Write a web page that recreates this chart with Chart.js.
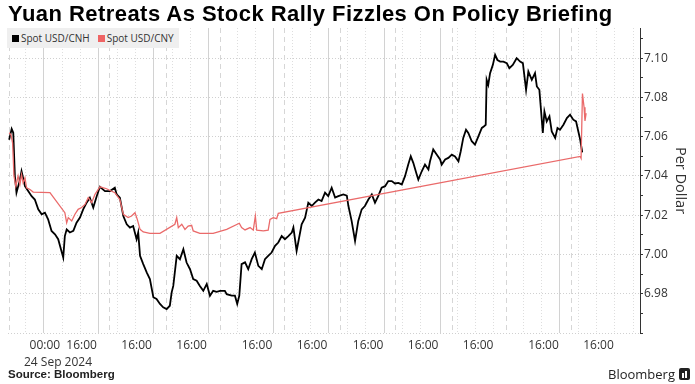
<!DOCTYPE html>
<html><head><meta charset="utf-8">
<script src="https://cdn.jsdelivr.net/npm/chart.js@4.4.1/dist/chart.umd.min.js"></script>
<style>
html,body{margin:0;padding:0;background:#fff;}
#wrap{position:relative;width:695px;height:384px;overflow:hidden;font-family:"Open Sans",sans-serif;}
#c{position:absolute;left:0;top:0;}
#title{position:absolute;left:8px;top:1px;font:bold 22px "Liberation Sans",Arial,sans-serif;letter-spacing:0.45px;color:#000;white-space:nowrap;}
#legend{position:absolute;left:7px;top:28px;width:172px;height:20px;background:#efefef;font-size:10px;color:#333;display:flex;align-items:center;white-space:nowrap;}
#legend .sw{display:inline-block;width:7px;height:7px;margin:0 2px 0 5px;}
#date{position:absolute;left:24px;top:353px;font:12px "Open Sans",sans-serif;color:#333;white-space:nowrap;}
#source{position:absolute;left:8px;top:368px;font:bold 11.5px "Liberation Sans",Arial,sans-serif;color:#222;white-space:nowrap;}
#brand{position:absolute;right:5px;top:365px;font:13px "Open Sans",sans-serif;color:#222;white-space:nowrap;display:flex;align-items:center;}
#brand .ic{display:inline-block;width:11px;height:12px;background:#222;border-radius:2px;margin-left:4px;position:relative;}
#brand .ic i{position:absolute;bottom:2px;width:2px;background:#fff;}
</style></head>
<body><div id="wrap">
<canvas id="c" width="695" height="384"></canvas>
<div id="title">Yuan Retreats As Stock Rally Fizzles On Policy Briefing</div>
<div id="legend"><span class="sw" style="background:#000"></span>Spot USD/CNH<span class="sw" style="background:#ef6464;margin-left:8px"></span>Spot USD/CNY</div>
<div id="date">24 Sep 2024</div>
<div id="source">Source: Bloomberg</div>
<div id="brand">Bloomberg<span class="ic"><i style="left:3px;height:5px"></i><i style="left:6px;height:7px"></i></span></div>
</div>
<script>
// x values are hours of the (compressed) trading-time axis, 0 = 00:00 24 Sep 2024
const cnhHours = [-15.6,-14.5,-13.8,-13.1,-12.4,-10.9,-10.2,-8.7,-7.3,-5.8,-4.4,-2.9,-1.4,0.0,1.4,2.9,4.4,5.8,7.0,8.0,8.7,9.5,10.9,12.4,13.8,15.3,16.7,18.2,19.6,21.1,22.6,24.0,26.2,28.4,30.5,31.3,32.7,34.2,35.7,37.1,38.5,40.0,40.7,41.5,42.9,44.4,45.8,47.3,48.7,50.2,51.6,53.1,54.5,55.3,56.0,57.5,58.9,60.4,61.8,63.3,64.7,66.2,67.6,69.1,70.6,72.0,73.4,74.9,76.4,78.5,79.3,81.5,82.9,83.9,84.8,85.8,87.3,88.7,90.2,91.6,93.1,94.6,96.0,97.4,98.9,100.4,101.8,103.3,104.7,106.2,107.7,108.4,109.8,110.5,112.0,113.5,114.9,116.4,117.8,119.3,120.7,122.2,123.6,125.1,126.6,128.0,130.2,131.7,132.4,133.8,135.3,136.7,138.2,139.6,141.1,142.6,144.0,145.4,146.9,148.4,149.8,151.3,152.7,154.2,155.7,157.1,158.5,159.6,160.7,162.2,162.9,164.4,165.8,167.3,168.0,169.4,170.9,172.4,173.1,174.6,176.0,177.5,178.9,180.4,181.4,182.5,183.7,184.7,186.2,187.6,189.1,190.6,191.6,192.3,192.7,193.4,194.2,195.4,196.4,197.4,198.6,200.0,201.5,202.6,204.1,205.8,207.3,208.5,209.2,209.9,210.9,212.4,213.8,214.6,215.7,216.4,217.2,217.9,218.9,220.1,221.1,222.6,223.6,224.7,226.2,227.7,229.1,230.5,231.7,232.7,233.5,234.2,234.4];
const cnhValues = [7.0585,7.0640,7.0620,7.0400,7.0315,7.0380,7.0424,7.0348,7.0323,7.0297,7.0280,7.0230,7.0205,7.0213,7.0179,7.0120,7.0103,7.0078,7.0027,6.9985,7.0094,7.0128,7.0112,7.0120,7.0162,7.0188,7.0230,7.0264,7.0289,7.0239,7.0297,7.0345,7.0323,7.0323,7.0340,7.0306,7.0290,7.0196,7.0154,7.0137,7.0145,7.0078,7.0112,6.9993,6.9951,6.9909,6.9875,6.9782,6.9773,6.9748,6.9731,6.9722,6.9739,6.9807,6.9840,6.9993,6.9976,7.0027,6.9959,6.9925,6.9875,6.9866,6.9840,6.9815,6.9850,6.9790,6.9815,6.9810,6.9815,6.9815,6.9798,6.9790,6.9790,6.9748,6.9790,6.9951,6.9960,6.9925,6.9976,7.0010,6.9942,6.9925,6.9976,6.9993,7.0010,7.0044,7.0061,7.0094,7.0078,7.0094,7.0112,7.0137,7.0018,7.0061,7.0154,7.0188,7.0264,7.0247,7.0264,7.0280,7.0272,7.0315,7.0297,7.0340,7.0290,7.0297,7.0306,7.0300,7.0247,7.0171,7.0069,7.0171,7.0230,7.0247,7.0280,7.0306,7.0264,7.0297,7.0340,7.0348,7.0374,7.0374,7.0362,7.0365,7.0357,7.0399,7.0458,7.0500,7.0467,7.0408,7.0382,7.0424,7.0458,7.0433,7.0475,7.0535,7.0509,7.0484,7.0458,7.0484,7.0492,7.0509,7.0500,7.0475,7.0526,7.0594,7.0636,7.0619,7.0577,7.0560,7.0602,7.0645,7.0653,7.0661,7.0890,7.0864,7.0924,7.0966,7.1017,7.0991,7.0983,7.0983,7.0975,7.0949,7.0966,7.1000,7.0983,7.0975,7.0907,7.0839,7.0932,7.0890,7.0924,7.0856,7.0839,7.0738,7.0619,7.0729,7.0678,7.0704,7.0627,7.0594,7.0645,7.0636,7.0661,7.0695,7.0712,7.0687,7.0678,7.0627,7.0585,7.0535,7.0520];

const cnyHours = [-15.6,-14.8,-14.1,-13.5,-12.7,-11.7,-10.9,-10.2,-9.5,-8.7,-8.0,-6.5,-5.1,2.2,8.7,9.5,10.2,11.7,13.1,14.5,16.0,17.5,18.9,20.4,21.8,24.0,26.9,30.5,32.7,34.2,36.3,37.8,39.3,40.3,41.5,42.9,45.8,50.2,56.7,57.5,58.2,59.7,61.1,62.5,64.0,64.7,67.6,73.4,79.3,84.8,85.8,87.3,89.5,90.9,91.8,92.4,95.3,97.4,98.2,99.6,101.1,101.8,233.5,233.9,234.5,235.2,235.6,236.1];
const cnyValues = [7.0620,7.0610,7.0569,7.0400,7.0348,7.0400,7.0357,7.0408,7.0365,7.0391,7.0340,7.0331,7.0318,7.0315,7.0213,7.0162,7.0188,7.0171,7.0205,7.0230,7.0239,7.0255,7.0290,7.0264,7.0306,7.0345,7.0335,7.0315,7.0280,7.0205,7.0188,7.0196,7.0213,7.0179,7.0128,7.0115,7.0108,7.0108,7.0154,7.0188,7.0137,7.0154,7.0128,7.0145,7.0149,7.0120,7.0108,7.0108,7.0128,7.0159,7.0137,7.0125,7.0137,7.0124,7.0196,7.0124,7.0120,7.0124,7.0179,7.0188,7.0183,7.0210,7.0500,7.0490,7.0820,7.0750,7.0680,7.0720];

const xTickHours = [0,16,40,64,92.5,116.5,141,165,189,217.5,241.5];
const xTickLabels = ["00:00","16:00","16:00","16:00","16:00","16:00","16:00","16:00","16:00","16:00","16:00"];
const yTickValues = [6.96,6.97,6.98,6.99,7.00,7.01,7.02,7.03,7.04,7.05,7.06,7.07,7.08,7.09,7.10,7.11];
const yLabelValues = [6.98,7.00,7.02,7.04,7.06,7.08,7.10];

const solidGridHours = [-1,23.3,47.3,71.3,99.6,123.6,147.9,172.3,224.4];
const dashedGridHours = [-15.6,28.1,52.7,76.4,104.3,128.7,152.7,177.5,201.2,229.4];
const dottedGridHours = [-8.7,-0.7,7.3,15.3,31.3,39.3,55.3,63.3,83.6,91.6,107.6,115.6,131.6,139.6,155.6,163.6,179.6,187.6,195.6,208.4,216.4,232.4,240.4,248.4,256.4];

const vgrid = {
  id:'vgrid',
  beforeDatasetsDraw(chart){
    const {ctx, chartArea:{top,bottom}, scales:{x}} = chart;
    const draw = (arr,color,dash)=>{
      ctx.save(); ctx.strokeStyle=color; ctx.lineWidth=1; ctx.setLineDash(dash);
      arr.forEach(h=>{
        const px = Math.round(x.getPixelForValue(h))+0.5;
        ctx.beginPath(); ctx.moveTo(px,top); ctx.lineTo(px,bottom); ctx.stroke();
      });
      ctx.restore();
    };
    draw(dottedGridHours,'#dedede',[1,2]);
    draw(dashedGridHours,'#d6d6d6',[5,4]);
    draw(solidGridHours,'#d2d2d2',[]);
  }
};

const isLabel = v => yLabelValues.some(l=>Math.abs(l-v)<1e-6);
const tickFont = {family:'"Open Sans", sans-serif', size:12};

new Chart(document.getElementById('c'), {
  type:'line',
  data:{datasets:[
    {label:'Spot USD/CNY', data:cnyHours.map((h,i)=>({x:h,y:cnyValues[i]})), borderColor:'#ea6a6a', borderWidth:1.3, pointRadius:0, tension:0, order:0},
    {label:'Spot USD/CNH', data:cnhHours.map((h,i)=>({x:h,y:cnhValues[i]})), borderColor:'#000', borderWidth:1.8, pointRadius:0, tension:0, order:1}
  ]},
  options:{
    responsive:false, animation:false,
    layout:{padding:{left:8, top:28, right:0, bottom:0}},
    plugins:{legend:{display:false}, tooltip:{enabled:false}},
    scales:{
      x:{type:'linear', min:-16.1, max:259.6,
        grid:{display:false, drawTicks:false}, border:{display:false},
        afterBuildTicks:s=>{s.ticks = xTickHours.map(v=>({value:v}));},
        afterFit:s=>{s.height=51;},
        ticks:{autoSkip:false, maxRotation:0, padding:5, color:'#333', font:tickFont,
          callback:(v,i)=>xTickLabels[i]}
      },
      y:{position:'right', min:6.96, max:7.1154,
        afterBuildTicks:s=>{s.ticks = yTickValues.map(v=>({value:v}));},
        afterFit:s=>{s.width=55;},
        border:{display:true, color:'#333', width:1, dash:[1,2]},
        grid:{lineWidth:1, tickLength:3, tickColor:'#333',
          color:c=>{const v=c.tick?c.tick.value:null; return (v!==null && (isLabel(v)||Math.abs(v-6.96)<1e-6))?'#d0d0d0':'rgba(0,0,0,0)';}},
        ticks:{autoSkip:false, padding:1, color:'#333', font:tickFont,
          callback:v=>isLabel(v)?v.toFixed(2):''},
        title:{display:true, text:'Per Dollar', color:'#333', font:{family:'"Open Sans", sans-serif', size:14.5}, padding:{top:6,bottom:0}}
      }
    }
  },
  plugins:[vgrid]
});
</script>
</body></html>
